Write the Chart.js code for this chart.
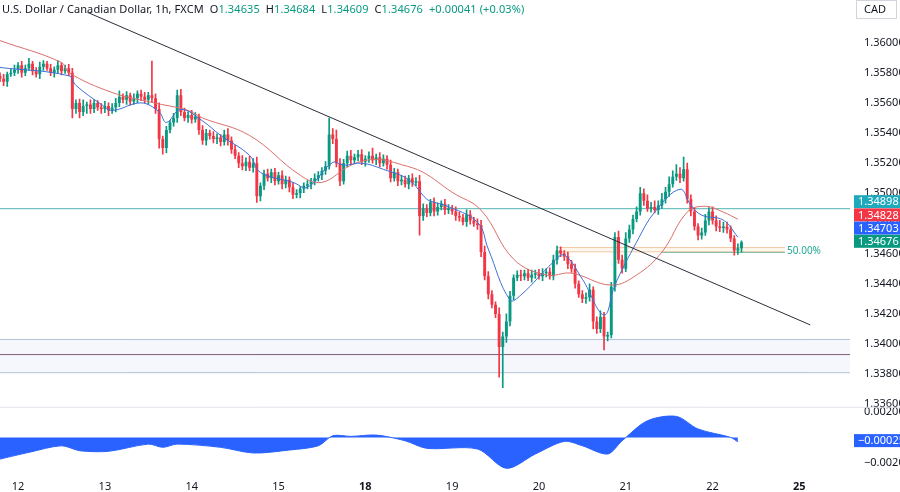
<!DOCTYPE html>
<html><head><meta charset="utf-8">
<script src="https://cdn.jsdelivr.net/npm/chart.js@4.4.1/dist/chart.umd.min.js"></script>
<style>
html,body{margin:0;padding:0;background:#fff;width:900px;height:492px;overflow:hidden;font-family:"Noto Sans",Arial,sans-serif}
#wrap{position:relative;width:900px;height:492px}
#hdr{position:absolute;left:2px;top:1px;font-size:11px;color:#131722;white-space:pre;letter-spacing:0.1px}
#hdr span{color:#089981}
</style></head><body>
<div id="wrap"><canvas id="c" width="900" height="492"></canvas>
<div id="hdr">U.S. Dollar / Canadian Dollar, 1h, FXCM  O<span>1.34635</span>  H<span>1.34684</span>  L<span>1.34609</span>  C<span>1.34676</span>  <span>+0.00041 (+0.03%)</span></div>
</div>
<script>
// price values in units of 1e-5 above 1.34000
const closes = [1760,1740,1790,1800,
1820,1850,1800,1830,1860,1810,1790,1840,1860,1830,1800,1820,1850,1810,1830,
1800,1560,
1600,1540,1580,1590,1560,1600,1570,1560,1580,1550,1570,
1600,1640,1620,1650,1610,1630,1660,1640,1620,1650,
1630,1560,1360,1300,1420,1470,1500,1650,
1540,1500,1520,1490,1510,1420,1350,
1400,1380,1360,1370,1340,1390,1350,
1290,1250,1200,1180,1210,1170,
1200,980,1050,
1130,1100,1140,1080,1120,1060,1090,1040,
990,1000,1030,1050,1060,1080,1100,1120,
1150,1180,1390,1360,1200,1080,1200,
1250,1220,1240,1260,1210,1230,1250,
1220,1240,1200,1230,1190,
1100,1140,1080,1090,1060,1100,1070,1080,
850,
900,870,940,880,910,930,890,900,
880,850,840,810,860,820,800,790,
610,450,330,260,200,-20,50,150,
320,440,460,450,470,440,460,470,450,470,480,450,
560,620,600,580,530,500,400,330,300,310,360,150,100,180,50,60,
380,710,560,500,700,760,830,880,1000,950,900,910,890,920,960,1010,1060,1110,1130,1100,1160,
960,880,780,720,740,820,880,820,780,770,780,760,700,620,635,676];
const firstOpen = 1780;
const wickUp = [20,30,15,25,30,18,25,20,35,15,25,30,20,15,25,20,30,15,20,25,
30,20,25,40,15,30,20,15,25,30,20,25,30,40,20,25,15,30,20,25,
30,20,228,30,40,20,25,15,30,35,40,25,20,30,25,15,30,25,20,30,
25,20,30,40,25,30,20,50,25,35,30,40,20,25,30,20,25,20,30,25,
20,30,25,15,20,25,20,30,25,20,30,110,40,60,30,25,30,35,20,25,
30,20,25,50,20,30,25,20,30,25,20,30,25,20,30,25,40,30,25,20,
30,25,20,30,25,20,30,25,20,30,25,20,30,30,40,30,25,20,40,30,
50,30,20,25,30,20,25,30,20,25,30,20,25,30,30,25,20,30,25,30,
20,25,30,40,20,30,40,30,20,30,30,40,30,40,30,25,30,40,30,40,
30,40,30,40,30,50,40,60,40,80,40,30,25,20,30,40,25,30,30,40,
30,30,25,20,30,8];
const wickDn = [20,25,30,15,20,25,30,20,15,25,20,30,25,15,20,30,20,25,15,20,
60,30,40,25,50,30,25,20,30,25,35,20,30,25,20,30,25,20,30,25,
20,30,25,30,60,40,30,20,25,30,25,20,30,25,20,30,25,30,20,25,
30,25,20,30,25,20,30,25,30,20,30,40,30,25,20,30,25,20,30,25,
30,25,20,30,25,20,30,25,20,30,25,20,30,25,30,20,25,30,20,25,
20,30,25,20,30,25,20,30,25,20,30,25,20,30,25,20,128,30,25,20,
30,25,20,30,25,20,30,25,20,30,25,20,30,30,25,30,20,25,200,270,
40,30,25,20,30,25,20,30,25,20,30,25,20,25,30,20,25,30,25,30,
20,25,30,25,50,30,25,89,30,20,30,25,30,20,25,30,20,25,30,20,
25,20,30,20,25,30,20,25,30,20,25,30,25,30,25,20,30,25,30,25,
30,25,20,30,25,26];
// moving averages (sparse points: hour index, price units)
const slowMA = [[0,2013],[17,1868],[19,1801],[31,1669],[42,1603],[52,1550],[56,1500],[69,1384],[83,1120],[89,1073],[97,1186],[104,1225],[111,1190],[117,1139],[125,1007],[133,888],[142,563],[151,458],[158,470],[169,391],[176,458],[183,610],[190,875],[195,914],[200,875],[204,828]];
const fastMA = [[0,1835],[19,1780],[21,1716],[28,1590],[31,1550],[39,1600],[44,1540],[46,1470],[50,1557],[56,1480],[61,1384],[69,1252],[72,1139],[81,1073],[85,1040],[92,1205],[95,1186],[100,1200],[106,1159],[113,1090],[118,961],[120,941],[123,921],[132,808],[135,630],[141,292],[144,325],[153,544],[156,590],[161,431],[167,193],[170,391],[176,676],[181,875],[188,1027],[191,921],[194,855],[200,822],[204,709]];
const oscPts = [[0,-0.00168],[8,-0.00116],[17,-0.00065],[22,-0.00103],[30,-0.00108],[41,-0.00052],[45,-0.00077],[49,-0.00052],[61,-0.00077],[70,-0.00121],[80,-0.00098],[88,-0.00065],[92,0.00013],[97,0.00008],[104,0.00018],[112,-0.00026],[118,-0.00085],[132,-0.0009],[140,-0.0024],[148,-0.00129],[156,-0.00031],[161,-0.00065],[168,-0.00129],[172,-0.00026],[179,0.00129],[187,0.00163],[193,0.00065],[202,0],[204,-0.00034]];
const dayTicks = {5:'12',29:'13',53:'14',77:'15',101:'18',125:'19',149:'20',173:'21',197:'22',221:'25'};
const boldDays = ['18','25'];
const priceTicks = [1.336,1.338,1.340,1.342,1.344,1.346,1.348,1.350,1.352,1.354,1.356,1.358,1.360];
const oscTicks = [0.002,-0.002];
const trendLine = [[18,1.36265],[224,1.34127]];
const resLevel = 1.34898;
const zoneTop = 1.3403, zoneMid = 1.3393, zoneBot = 1.3381;
const fibTop = 1.3464, fibBot = 1.3461;
const priceBoxes = [['1.34898','#1fa9bd'],['1.34828','#f23645'],['1.34703','#2962ff'],['1.34676','#089981']];
const totalSlots = 236;

const P = v => 1.34 + v/1e5;
const labels = Array.from({length: totalSlots}, (_, i) => i);
const bodies = [], wicks = [], colors = [];
closes.forEach((c, i) => {
  const o = i === 0 ? firstOpen : closes[i-1];
  bodies.push({x: i, y: [P(o), P(c === o ? c + 2 : c)]});
  wicks.push({x: i, y: [P(Math.min(o,c) - wickDn[i]), P(Math.max(o,c) + wickUp[i])]});
  colors.push(c >= o ? '#089981' : '#f23645');
});
const pts = arr => arr.map(([x,y]) => ({x, y: P(y)}));
const hline = (v) => [{x:0,y:v},{x:totalSlots-1,y:v}];

const rightLabels = {
  id:'rl',
  afterDraw(ch){
    const ctx = ch.ctx, a = ch.chartArea, ys = ch.scales.y, y2 = ch.scales.y2;
    ctx.save();
    ctx.strokeStyle = '#e0e3eb'; ctx.lineWidth = 1;
    ctx.beginPath(); ctx.moveTo(0, ys.bottom+0.5); ctx.lineTo(900, ys.bottom+0.5); ctx.stroke();
    const box = (py, bg, txt) => {
      ctx.fillStyle = bg; ctx.fillRect(a.right+4, py-6.5, 900-a.right, 13);
      ctx.fillStyle = '#fff'; ctx.font = '11px "Noto Sans"'; ctx.textBaseline='middle';
      ctx.fillText(txt, a.right+8, py+0.5);
    };
    const y0 = ys.getPixelForValue(resLevel) - 7;
    priceBoxes.forEach(([t,c],k) => box(y0 + k*13.2, c, t));
    box(y2.getPixelForValue(-0.00025), '#2962ff', '−0.00025');
    ctx.strokeStyle='#d1d4dc';
    ctx.strokeRect(a.right+6.5, 0.5, 40, 18);
    ctx.fillStyle='#131722'; ctx.font='11px "Noto Sans"'; ctx.textBaseline='middle';
    ctx.fillText('CAD', a.right+14, 10);
    ctx.fillStyle='#22ab94'; ctx.font='10px "Noto Sans"';
    ctx.fillText('50.00%', ch.scales.x.getPixelForValue(217.6), ys.getPixelForValue(fibBot)-1);
    ctx.restore();
  }
};

new Chart(document.getElementById('c'), {
  data: {
    labels,
    datasets: [
      {type:'line', data: hline(zoneTop), borderColor:'#b2c4d8', borderWidth:1, pointRadius:0, yAxisID:'y', order:10},
      {type:'line', data: hline(zoneBot), borderColor:'#b2c4d8', borderWidth:1, pointRadius:0, yAxisID:'y', fill:'-1', backgroundColor:'rgba(225,233,245,0.35)', order:10},
      {type:'line', data: hline(zoneMid), borderColor:'#7e5a78', borderWidth:1, pointRadius:0, yAxisID:'y', order:9},
      {type:'line', data: hline(resLevel), borderColor:'#4fb6b0', borderWidth:1, pointRadius:0, yAxisID:'y', order:9},
      {type:'line', data: [{x:154,y:fibTop},{x:217,y:fibTop}], borderColor:'#f0c9a0', borderWidth:1, pointRadius:0, yAxisID:'y', order:9},
      {type:'line', data: [{x:154,y:fibBot+0.00002},{x:217,y:fibBot+0.00002}], borderColor:'#f0c9a0', borderWidth:1, pointRadius:0, yAxisID:'y', fill:'-1', backgroundColor:'rgba(250,235,215,0.4)', order:9},
      {type:'line', data: [{x:183,y:fibBot-0.00001},{x:217,y:fibBot-0.00001}], borderColor:'#22ab94', borderWidth:1, pointRadius:0, yAxisID:'y', order:9},
      {type:'bar', data: wicks, backgroundColor: colors, barThickness:1, grouped:false, yAxisID:'y', order:5},
      {type:'bar', data: bodies, backgroundColor: colors, barPercentage:0.8, categoryPercentage:1, grouped:false, yAxisID:'y', order:4},
      {type:'line', data: pts(slowMA), borderColor:'#d9706c', borderWidth:1, pointRadius:0, tension:0.4, yAxisID:'y', order:2},
      {type:'line', data: pts(fastMA), borderColor:'#3f6fd6', borderWidth:1, pointRadius:0, tension:0.4, yAxisID:'y', order:1},
      {type:'line', data: trendLine.map(([x,y])=>({x,y})), borderColor:'#2a2e39', borderWidth:1, pointRadius:0, yAxisID:'y', order:0},
      {type:'line', data: oscPts.map(([x,y])=>({x,y})), borderColor:'#2962ff', borderWidth:1, backgroundColor:'#2962ff', fill:'origin', pointRadius:0, tension:0.3, yAxisID:'y2', order:0}
    ]
  },
  options: {
    responsive:false, animation:false, events:[],
    layout:{padding:0},
    plugins:{legend:{display:false}, tooltip:{enabled:false}},
    scales:{
      x:{type:'category', offset:false, grid:{display:false}, border:{display:false},
        afterFit:(s)=>{ s.height = 22; s.paddingLeft = 0; s.paddingRight = 0; },
        ticks:{autoSkip:false, maxRotation:0, padding:2, color:'#131722',
          callback:(v)=> dayTicks[v] || '',
          font:(ctx)=>({size:11, family:'Noto Sans', weight: boldDays.includes(dayTicks[ctx.index]) ? 'bold':'normal'})}},
      y:{position:'right', stack:'s', stackWeight:405, min:1.33584, max:1.36199,
        grid:{display:false}, border:{display:false},
        afterBuildTicks:(s)=>{ s.ticks = priceTicks.map(v=>({value:v})); },
        afterFit:(s)=>{ s.width = 50; s.paddingTop = 0; s.paddingBottom = 0; },
        ticks:{color:'#131722', font:{size:11,family:'Noto Sans'}, padding:6, callback:v=>v.toFixed(5)}},
      y2:{position:'right', stack:'s', stackWeight:65, min:-0.00253, max:0.00238,
        grid:{display:false}, border:{display:false},
        afterBuildTicks:(s)=>{ s.ticks = oscTicks.map(v=>({value:v})); },
        afterFit:(s)=>{ s.width = 50; },
        ticks:{color:'#131722', font:{size:11,family:'Noto Sans'}, padding:6, callback:v=>v.toFixed(5).replace('-','−')}}
    }
  },
  plugins:[rightLabels]
});
</script>
</body></html>
